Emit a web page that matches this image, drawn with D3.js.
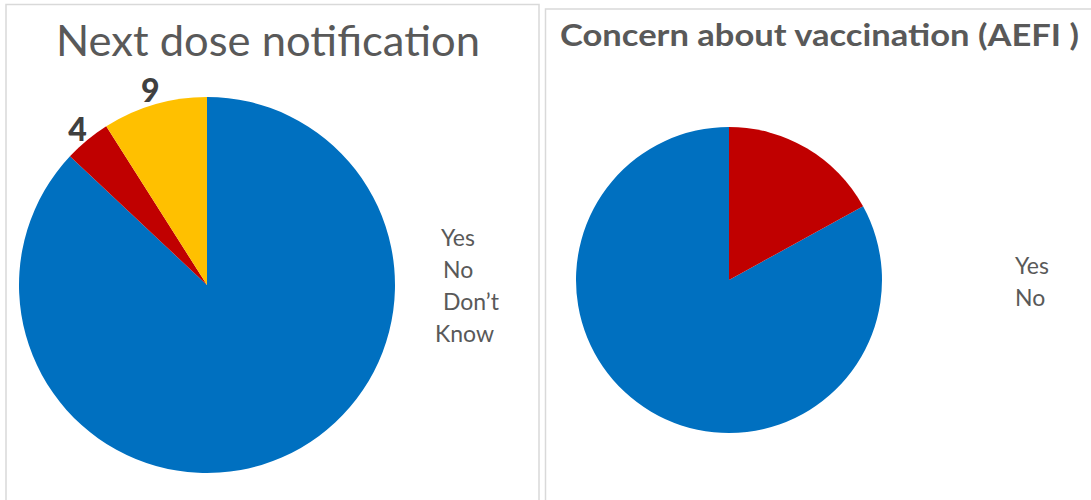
<!DOCTYPE html>
<html>
<head>
<meta charset="utf-8">
<script src="https://cdn.jsdelivr.net/npm/d3@7"></script>
<style>
  html, body { margin: 0; padding: 0; background: #fff; }
  svg { display: block; }
  text { font-family: Lato, "Open Sans", "DejaVu Sans", sans-serif; }
</style>
</head>
<body>
<svg id="chart" width="1091" height="500"></svg>
<script>
// Next dose notification (percent of respondents)
const doseCategories = ["Yes", "No", "Don\u2019t Know"];
const doseValues = [87, 4, 9];
const doseLabelled = [false, true, true];

// Concern about vaccination (AEFI)
const aefiCategories = ["Yes", "No"];
const aefiValues = [83, 17];

const colors = { "Yes": "#0070C0", "No": "#C00000", "Don\u2019t Know": "#FFC000" };

const svg = d3.select("#chart");

// panel frames
svg.append("rect").attr("x", 6).attr("y", 4.5).attr("width", 533).attr("height", 520)
  .attr("fill", "#fff").attr("stroke", "#D9D9D9").attr("stroke-width", 1.5);
svg.append("rect").attr("x", 545.5).attr("y", 9).attr("width", 560).attr("height", 520)
  .attr("fill", "#fff").attr("stroke", "#D9D9D9").attr("stroke-width", 1.5);

// ---- left panel ----
svg.append("text")
  .attr("x", 56).attr("y", 55.5)
  .attr("textLength", 424).attr("lengthAdjust", "spacingAndGlyphs")
  .attr("font-size", 42).attr("fill", "#595959")
  .text("Next dose notification");

const r1 = 188;
const g1 = svg.append("g").attr("transform", "translate(207,285)");
const pie1 = d3.pie().sort(null).value(d => d.value);
const arcs1 = pie1(doseCategories.map((c, i) => ({ cat: c, value: doseValues[i], labelled: doseLabelled[i] })));
const arc1 = d3.arc().innerRadius(0).outerRadius(r1);
g1.selectAll("path.slice").data(arcs1).join("path")
  .attr("class", "slice")
  .attr("d", arc1)
  .attr("fill", d => colors[d.data.cat]);

const labelArc1 = d3.arc().innerRadius(r1 + 15).outerRadius(r1 + 15);
g1.selectAll("text.val").data(arcs1.filter(d => d.data.labelled)).join("text")
  .attr("class", "val")
  .attr("transform", d => `translate(${labelArc1.centroid(d)})`)
  .attr("text-anchor", "middle")
  .attr("dy", "0.38em")
  .attr("font-size", 32).attr("font-weight", 900).attr("fill", "#404040")
  .text(d => d.data.value);

// legend (text only)
const leg1 = svg.append("g").attr("font-size", 23).attr("fill", "#595959");
leg1.append("text").attr("x", 441).attr("y", 246).text(doseCategories[0]);
leg1.append("text").attr("x", 443).attr("y", 278).text(doseCategories[1]);
const dk = doseCategories[2].split(" ");
leg1.append("text").attr("x", 443).attr("y", 310).text(dk[0]);
leg1.append("text").attr("x", 435).attr("y", 342).text(dk[1]);

// ---- right panel ----
svg.append("text")
  .attr("x", 560).attr("y", 46)
  .attr("textLength", 519).attr("lengthAdjust", "spacingAndGlyphs")
  .attr("font-size", 30).attr("font-weight", 700).attr("fill", "#595959")
  .text("Concern about vaccination (AEFI )");

const r2 = 153;
const g2 = svg.append("g").attr("transform", "translate(729,280)");
const total2 = d3.sum(aefiValues);
const offset2 = 2 * Math.PI * aefiValues[1] / total2;
const pie2 = d3.pie().sort(null).value(d => d.value)
  .startAngle(offset2).endAngle(offset2 + 2 * Math.PI);
const arcs2 = pie2(aefiCategories.map((c, i) => ({ cat: c, value: aefiValues[i] })));
const arc2 = d3.arc().innerRadius(0).outerRadius(r2);
g2.selectAll("path.slice").data(arcs2).join("path")
  .attr("class", "slice")
  .attr("d", arc2)
  .attr("fill", d => colors[d.data.cat]);

const leg2 = svg.append("g").attr("font-size", 23).attr("fill", "#595959");
leg2.selectAll("text").data(aefiCategories).join("text")
  .attr("x", 1015)
  .attr("y", (d, i) => 274 + i * 32)
  .text(d => d);
</script>
</body>
</html>
